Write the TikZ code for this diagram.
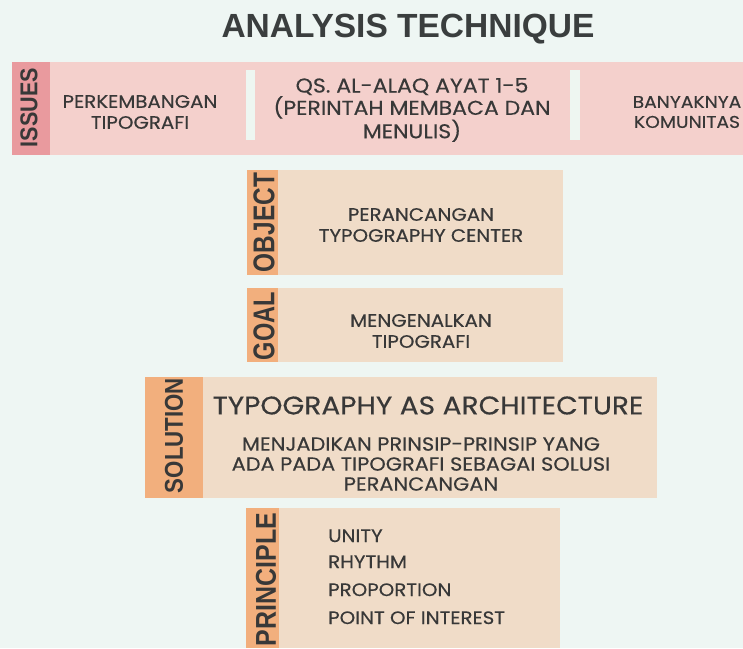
\documentclass[tikz,border=0pt]{standalone}
\usepackage{fontspec}
\usepackage{graphicx}
\setmainfont[FakeStretch=1.1,FakeBold=0.35]{Poppins}
\newfontfamily\titlefont{Liberation Sans}
\newfontfamily\labfont{Liberation Sans}
\definecolor{bgc}{HTML}{EEF6F3}
\definecolor{issstrip}{HTML}{E99A9E}
\definecolor{issband}{HTML}{F4D0CC}
\definecolor{strip}{HTML}{F2AF7D}
\definecolor{beige}{HTML}{F0DCC8}
\definecolor{divc}{HTML}{EEF6F1}
\definecolor{txt}{HTML}{383838}
\definecolor{ttl}{HTML}{3A3E3E}
\tikzset{
  panel/.style={fill=#1, draw=none, inner sep=0pt, outer sep=0pt, anchor=north west},
  body/.style={text=txt, align=center, inner sep=0pt, font=\fontsize{18}{21}\selectfont},
  item/.style={text=txt, inner sep=0pt, anchor=base west, font=\fontsize{18}{21}\selectfont},
  lab/.style={text=txt, rotate=90, inner sep=0pt}
}
\newcommand{\lbl}[3]{\resizebox{#2pt}{#3pt}{\labfont\bfseries #1}}
\begin{document}
\begin{tikzpicture}[x=1pt,y=-1pt]
\useasboundingbox (0,0) rectangle (743,648);
\fill[bgc] (0,0) rectangle (743,648);

% title
\node[text=ttl, inner sep=0pt, font=\titlefont\bfseries\fontsize{33.5}{38}\selectfont] (title) at (408,29) {ANALYSIS TECHNIQUE};

% issues band
\node[panel=issstrip, minimum width=38pt, minimum height=93pt] (isstrip) at (12,62) {};
\node[panel=issband, minimum width=693pt, minimum height=93pt] (isband) at (50,62) {};
\node[panel=divc, minimum width=9pt, minimum height=70pt] (div1) at (246,70) {};
\node[panel=divc, minimum width=10pt, minimum height=70pt] (div2) at (570,70) {};
\node[lab] (islab) at (29,107.5) {\lbl{ISSUES}{79}{17}};
\node[body] (is1) at (140,112) {PERKEMBANGAN\\TIPOGRAFI};
\node[body, font=\fontsize{20}{19}\selectfont] (is2) at (412,110) {QS. AL-ALAQ AYAT 1-5\\(PERINTAH MEMBACA DAN\\MENULIS)};
\node[body, font=\fontsize{17}{20}\selectfont] (is3) at (687,112) {BANYAKNYA\\KOMUNITAS};

% object
\node[panel=strip, minimum width=31pt, minimum height=105pt] (obstrip) at (247,170) {};
\node[panel=beige, minimum width=285pt, minimum height=105pt] (obmain) at (278,170) {};
\node[lab] (oblab) at (264,222.5) {\lbl{OBJECT}{99}{21}};
\node[body] (obtxt) at (421,225) {PERANCANGAN\\TYPOGRAPHY CENTER};

% goal
\node[panel=strip, minimum width=31pt, minimum height=74pt] (gostrip) at (247,288) {};
\node[panel=beige, minimum width=285pt, minimum height=74pt] (gomain) at (278,288) {};
\node[lab] (golab) at (264,326) {\lbl{GOAL}{68}{21}};
\node[body] (gotxt) at (421,331) {MENGENALKAN\\TIPOGRAFI};

% solution
\node[panel=strip, minimum width=58pt, minimum height=121pt] (sostrip) at (145,377) {};
\node[panel=beige, minimum width=454pt, minimum height=121pt] (somain) at (203,377) {};
\node[lab] (solab) at (174,435.5) {\lbl{SOLUTION}{115}{18}};
\node[text=txt, inner sep=0pt, font=\fontsize{25.5}{28}\selectfont] (sotitle) at (428,405.5) {TYPOGRAPHY AS ARCHITECTURE};
\node[body, font=\fontsize{19}{20}\selectfont] (sotxt) at (421,464) {MENJADIKAN PRINSIP-PRINSIP YANG\\ADA PADA TIPOGRAFI SEBAGAI SOLUSI\\PERANCANGAN};

% principle
\node[panel=strip, minimum width=33pt, minimum height=140pt] (prstrip) at (246,508) {};
\node[panel=beige, minimum width=281pt, minimum height=140pt] (prmain) at (279,508) {};
\node[lab] (prlab) at (266,579.5) {\lbl{PRINCIPLE}{133}{20}};
\node[item] (p1) at (328,542) {UNITY};
\node[item] (p2) at (328,568) {RHYTHM};
\node[item] (p3) at (328,596) {PROPORTION};
\node[item] (p4) at (328,624) {POINT OF INTEREST};
\end{tikzpicture}
\end{document}
